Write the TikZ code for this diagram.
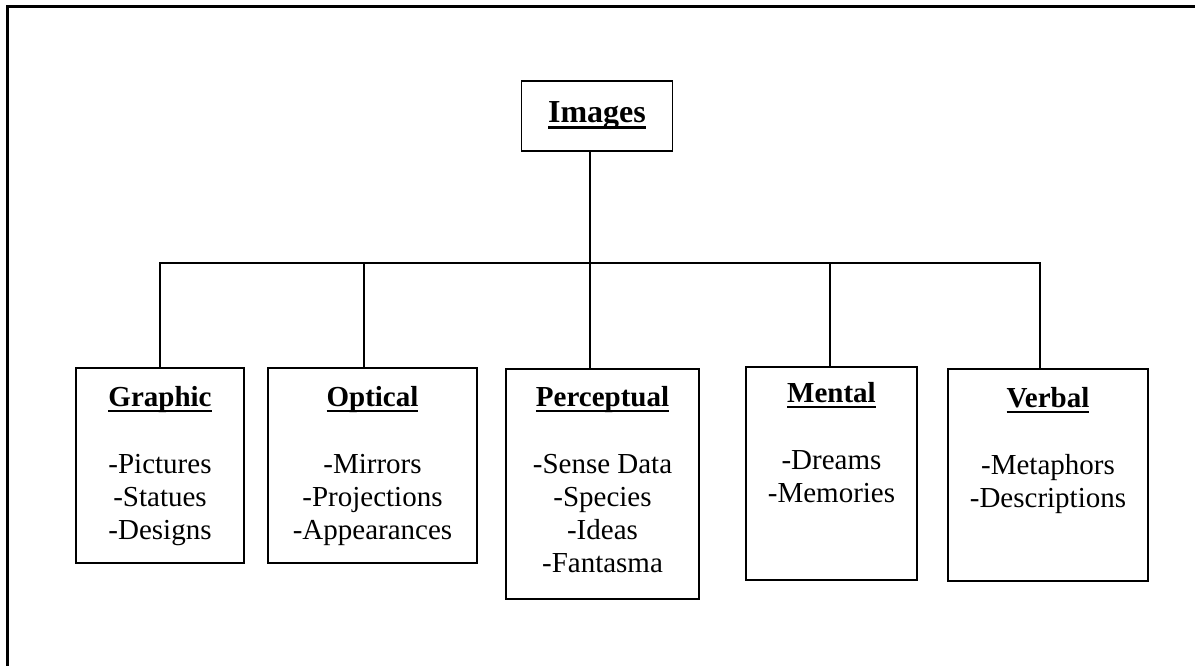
\documentclass[tikz,border=0pt]{standalone}
\usepackage{fontspec}
\setmainfont{Liberation Serif}
\newcommand\myul[3]{\setbox0\hbox{#3}\rlap{\vrule height -#1 depth #2 width \wd0}\box0}
\begin{document}
\begin{tikzpicture}[x=1pt, y=-1pt,
  box/.style={draw, rectangle, inner sep=0pt, line width=1.5pt},
  lbl/.style={anchor=north, align=center, inner sep=0pt, font=\fontsize{29}{33.3}\selectfont},
  conn/.style={line width=1.5pt},
  frame/.style={line width=2.7pt}]
\useasboundingbox (0,0) rectangle (1195,666);
\draw[frame] (7.5,666) -- (7.5,6.5) -- (1195,6.5);

\node[box, minimum width=150.6pt, minimum height=70pt, font=\fontsize{32}{36}\selectfont\bfseries] (img) at (597,116) {\myul{3.5pt}{6pt}{Images}};

\node[box, minimum width=168pt, minimum height=195pt] (gra) at (160,465.5) {};
\node[lbl, yshift=-17pt] (graT) at (gra.north) {\rule{0pt}{22pt}\textbf{\myul{3.2pt}{5.4pt}{Graphic}}\\[33.3pt]-Pictures\\-Statues\\-Designs};

\node[box, minimum width=209pt, minimum height=195pt] (opt) at (372.5,465.5) {};
\node[lbl, yshift=-17pt] (optT) at (opt.north) {\rule{0pt}{22pt}\textbf{\myul{3.2pt}{5.4pt}{Optical}}\\[33.3pt]-Mirrors\\-Projections\\-Appearances};

\node[box, minimum width=193pt, minimum height=230pt] (per) at (602.5,484) {};
\node[lbl, yshift=-16pt] (perT) at (per.north) {\rule{0pt}{22pt}\textbf{\myul{3.2pt}{5.4pt}{Perceptual}}\\[33.3pt]-Sense Data\\-Species\\-Ideas\\-Fantasma};

\node[box, minimum width=171pt, minimum height=213pt] (men) at (831.5,473.5) {};
\node[lbl, yshift=-14pt] (menT) at (men.north) {\rule{0pt}{22pt}\textbf{\myul{3.2pt}{5.4pt}{Mental}}\\[33.3pt]-Dreams\\-Memories};

\node[box, minimum width=200pt, minimum height=212pt] (ver) at (1048,475) {};
\node[lbl, yshift=-17pt] (verT) at (ver.north) {\rule{0pt}{22pt}\textbf{\myul{3.2pt}{5.4pt}{Verbal}}\\[33.3pt]-Metaphors\\-Descriptions};

\coordinate (jG) at (160,263);
\coordinate (jO) at (364,263);
\coordinate (jP) at (590,263);
\coordinate (jM) at (830,263);
\coordinate (jV) at (1040,263);

\draw[conn] (jP |- img.south) -- (jP);
\draw[conn] (jG |- gra.north) -- (jG) -- (jV) -- (jV |- ver.north);
\draw[conn] (jO) -- (jO |- opt.north);
\draw[conn] (jP) -- (jP |- per.north);
\draw[conn] (jM) -- (jM |- men.north);
\end{tikzpicture}
\end{document}
